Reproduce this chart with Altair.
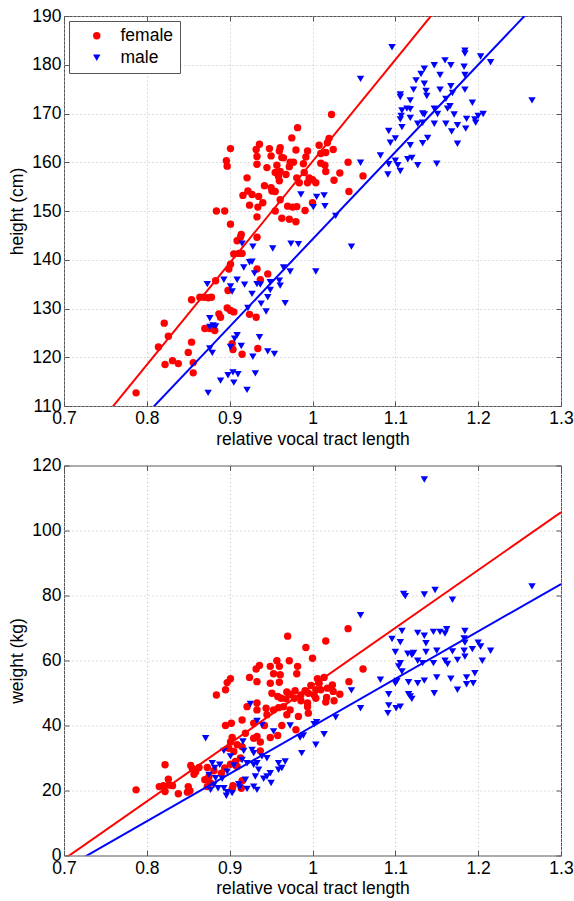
import altair as alt
import pandas as pd

FONT = "Liberation Sans"
X_TICKS = [0.7, 0.8, 0.9, 1.0, 1.1, 1.2, 1.3]
HEIGHT_TICKS = [110, 120, 130, 140, 150, 160, 170, 180, 190]
WEIGHT_TICKS = [0, 20, 40, 60, 80, 100, 120]
SEXES = ["female", "male"]
COLORS = ["#ff0000", "#0000ff"]
SHAPES = ["circle", "triangle-down"]

# ---- top panel: relative vocal tract length vs height (cm) ----
female_height = [
    (0.982,167.1),(0.975,165.0),(0.901,162.8),(0.936,163.7),(0.932,162.6),(0.948,162.8),(0.961,163.0),
    (0.960,162.3),(0.980,162.5),(0.994,162.3),(1.008,163.5),(0.896,160.3),(0.897,159.2),(0.933,161.2),
    (0.933,159.6),(0.950,161.3),(0.963,161.0),(0.965,160.9),(0.973,160.0),(0.977,160.0),(0.992,161.1),
    (0.989,159.7),(0.957,159.4),(0.945,158.9),(0.972,159.1),(0.961,158.1),(0.955,157.9),(0.968,157.5),
    (0.921,156.8),(0.959,157.1),(0.990,157.9),(0.981,156.8),(0.996,156.8),(1.004,155.8),(0.984,155.8),
    (0.994,155.8),(0.960,156.2),(0.942,155.2),(0.951,154.1),(0.950,154.8),(0.955,154.0),(0.922,154.1),
    (0.916,153.2),(0.927,153.4),(0.935,153.0),(0.961,152.3),
    (0.924,151.2),(0.934,150.8),(0.940,151.7),(0.933,148.8),(0.884,150.0),(0.894,150.0),(0.955,150.0),
    (0.963,148.5),(0.972,148.3),(0.970,151.0),(0.976,150.8),(0.981,150.9),(0.980,147.8),(0.991,150.1),
    (1.000,151.7),(0.901,147.3),(0.914,145.2),(0.913,144.6),(0.909,143.9),(0.933,144.6),(0.905,141.2),
    (0.911,141.3),(0.915,141.3),(0.901,139.1),(0.899,138.1),(0.933,138.1),(0.946,137.1),(0.937,135.9),
    (0.883,135.7),(0.898,133.7),(0.854,131.8),(0.864,132.3),(0.869,132.3),(0.874,132.2),(0.878,132.3),
    (0.897,130.1),(0.901,129.6),(0.905,129.3),(0.887,128.9),(0.889,128.2),(0.924,128.8),(0.932,128.2),
    (0.821,127.0),(0.826,124.3),(0.870,125.9),(0.876,125.9),(0.882,125.5),(0.814,122.1),(0.854,123.1),
    (0.903,122.8),(0.904,121.6),(0.934,121.8),(0.850,121.0),(0.915,120.6),(0.831,119.3),(0.838,118.7),
    (0.822,118.5),(0.856,118.9),(0.856,116.8),(0.787,112.7),
    (1.023,169.8),(1.020,164.9),(1.018,164.0),(1.025,162.6),(1.016,162.0),(1.010,161.8),(1.010,159.8),
    (1.015,159.4),(1.016,158.1),(1.043,160.0),(1.033,157.8),(1.061,157.2),(1.026,156.3),(1.000,156.4),
    (1.044,154.0),
]
male_height = [
    (0.986,153.4),(1.005,152.9),(1.001,150.8),
    (0.915,143.3),(0.928,142.7),(0.952,142.3),(0.974,143.3),(0.983,143.2),(0.927,139.6),(0.924,139.5),
    (0.917,138.4),(0.930,137.2),(0.909,135.9),(0.893,135.9),(0.873,135.0),(0.901,134.5),(0.903,133.5),
    (0.918,134.9),(0.933,135.0),(0.937,134.9),(0.949,135.4),(0.960,135.7),(0.961,134.7),(0.965,138.4),
    (0.973,137.6),(1.004,137.6),(0.927,133.0),(0.949,133.8),(0.946,132.3),(0.938,131.0),(0.922,130.1),
    (0.944,129.4),(0.967,131.1),(0.876,128.0),(0.880,126.5),(0.876,126.2),(0.883,126.3),(0.909,124.5),
    (0.906,123.8),(0.936,124.1),(0.901,122.1),(0.914,122.3),(0.876,121.8),(0.879,120.9),(0.946,121.2),
    (0.954,120.7),(0.928,120.1),(0.931,116.7),(0.898,116.3),(0.904,116.9),(0.910,116.5),(0.889,115.2),
    (0.905,114.8),(0.921,113.3),(0.874,112.7),
    (1.015,151.0),(1.028,149.0),(1.047,142.7),
    (1.096,183.6),(1.058,177.1),(1.184,182.9),(1.184,182.3),(1.203,181.7),(1.215,180.5),(1.160,180.9),
    (1.167,179.9),(1.147,179.9),(1.183,179.6),(1.135,179.2),(1.131,178.1),(1.154,177.9),(1.184,177.9),
    (1.125,176.8),(1.135,176.1),(1.106,173.9),(1.122,174.9),(1.137,174.6),(1.138,173.6),(1.154,174.9),
    (1.167,175.6),(1.169,174.2),(1.184,174.9),(1.106,173.4),(1.118,172.7),(1.161,173.0),(1.193,172.2),
    (1.265,172.7),(1.108,170.6),(1.114,171.0),(1.118,170.9),(1.107,169.5),(1.106,168.8),(1.118,169.1),
    (1.133,170.0),(1.135,169.8),(1.147,171.0),(1.151,169.9),(1.163,171.0),(1.166,171.5),(1.171,169.8),
    (1.186,168.9),(1.196,168.8),(1.206,169.9),(1.200,169.5),(1.197,168.1),(1.127,167.9),(1.133,168.1),
    (1.147,167.9),(1.161,167.9),(1.175,167.6),(1.108,167.2),(1.168,166.3),(1.185,166.9),(1.092,166.4),
    (1.139,165.0),(1.100,164.9),(1.094,164.0),(1.118,163.5),(1.133,163.9),(1.175,163.8),(1.082,161.4),
    (1.058,159.9),(1.092,159.6),(1.100,160.3),(1.103,159.4),(1.115,160.6),(1.120,160.9),(1.127,159.4),
    (1.150,159.7),(1.091,157.5),(1.106,158.2),(1.014,153.2),
]
# fitted lines (slope, intercept)
height_fit = {"female": (208.6, -48.43), "male": (179.0, -34.81)}

# ---- bottom panel: relative vocal tract length vs weight (kg) ----
female_weight = [
    (0.970,67.5),(0.992,64.0),(1.043,69.8),(1.016,66.0),
    (1.000,60.7),(0.972,59.9),(0.957,59.9),(0.949,58.2),(0.960,58.2),(0.936,58.5),(0.932,57.4),(0.982,58.2),
    (0.981,55.9),(0.961,55.6),(0.953,55.9),(0.924,54.8),(0.933,53.5),(0.901,54.4),(0.897,53.2),(0.895,51.0),
    (0.884,49.4),(0.949,53.0),(0.960,53.3),(0.998,52.3),(1.006,54.4),(0.979,50.7),(0.969,50.3),(0.973,49.6),
    (0.986,49.4),(0.991,50.7),(0.995,49.9),(0.951,49.9),(0.958,48.9),(0.962,48.4),(0.968,48.2),(0.978,48.4),
    (0.986,47.6),(0.994,46.9),(1.004,48.4),(0.933,46.9),(0.921,45.8),(0.944,45.3),(0.933,44.8),(0.953,44.8),
    (0.959,45.5),(0.965,45.8),(0.973,44.8),(0.994,45.8),(0.945,43.3),(0.969,43.3),(0.983,42.8),(0.995,43.8),
    (0.915,41.7),(0.902,40.7),(0.929,40.7),(0.942,40.0),(0.963,40.0),(0.895,40.0),(0.980,38.7),(0.919,37.6),
    (0.933,36.6),(0.929,36.1),(0.949,36.3),(0.958,36.9),(0.903,36.3),(0.901,34.9),(0.909,34.1),(0.937,34.9),
    (0.915,33.5),(0.899,33.0),(0.905,32.0),(0.937,32.2),(0.913,30.0),(0.907,28.9),(0.901,28.1),(0.909,27.4),
    (0.894,26.9),(0.890,25.3),(0.881,26.1),(0.873,27.1),(0.875,24.3),(0.870,23.3),(0.877,22.3),(0.873,21.2),
    (0.853,27.7),(0.855,26.7),(0.859,25.8),(0.863,27.1),(0.857,25.0),(0.822,27.9),(0.826,23.5),(0.827,21.7),
    (0.822,19.7),(0.815,21.2),(0.820,21.5),(0.831,21.5),(0.838,19.0),(0.850,21.2),(0.849,19.5),(0.852,19.9),
    (0.787,20.2),(0.904,21.5),(0.903,20.5),(0.914,20.7),(0.915,23.0),
    (1.061,57.4),(1.044,53.5),(1.033,49.6),(1.026,47.6),(1.016,47.2),(1.017,48.6),(1.024,52.5),(1.025,50.5),
    (1.014,54.8),(1.010,51.0),(1.004,51.0),(1.002,49.4),(1.008,53.0),(1.018,51.5),
]
male_weight = [
    (1.135,115.7),(1.058,73.9),(1.110,80.5),(1.112,79.8),(1.135,80.3),(1.148,81.7),(1.169,78.7),(1.265,82.8),
    (1.108,69.1),(1.096,66.6),(1.106,65.6),(1.127,68.5),(1.135,67.6),(1.146,68.8),(1.154,68.8),(1.162,69.6),
    (1.160,68.3),(1.184,69.1),(1.137,65.3),(1.183,66.8),(1.184,65.5),(1.200,65.5),(1.203,64.3),
    (1.100,62.6),(1.115,62.1),(1.120,61.7),(1.122,62.3),(1.137,62.6),(1.150,63.0),(1.169,62.8),(1.183,63.0),
    (1.193,63.5),(1.215,63.0),(1.106,59.2),(1.127,59.9),(1.133,59.2),(1.146,59.2),(1.160,59.9),(1.163,58.9),
    (1.175,60.2),(1.184,61.2),(1.205,59.9),(1.104,58.2),(1.108,56.6),(1.150,54.8),(1.167,54.4),(1.186,54.8),
    (1.196,56.1),(1.082,54.1),(1.102,53.7),(1.100,53.0),(1.116,53.3),(1.127,53.0),(1.135,53.8),(1.186,52.7),
    (1.194,53.0),(1.092,49.6),(1.116,49.6),(1.118,48.9),(1.120,48.2),(1.147,49.9),(1.175,51.0),(1.047,50.8),
    (1.092,46.2),(1.101,45.3),(1.106,45.8),(1.091,43.8),(1.058,45.3),(1.028,42.5),(1.002,40.4),(1.005,41.0),
    (1.014,37.3),(1.004,34.1),
    (0.925,46.6),(0.933,41.4),(0.939,40.2),(0.953,38.2),(0.973,40.0),(0.989,36.9),(0.985,36.3),(0.987,31.5),
    (0.871,36.1),(0.893,32.2),(0.901,30.5),(0.916,35.1),(0.917,32.2),(0.927,32.5),(0.929,31.5),(0.939,30.5),
    (0.945,29.9),(0.959,28.4),(0.967,28.9),(0.963,26.9),(0.959,26.4),(0.949,25.3),(0.945,24.3),(0.950,22.3),
    (0.879,28.4),(0.888,27.9),(0.882,26.9),(0.897,25.8),(0.905,27.7),(0.915,29.4),(0.921,28.4),(0.929,27.9),
    (0.933,28.4),(0.935,26.4),(0.931,24.3),(0.941,23.6),(0.875,24.8),(0.883,23.8),(0.891,23.6),(0.881,21.7),
    (0.877,20.2),(0.886,20.7),(0.893,20.7),(0.897,19.5),(0.896,18.4),(0.903,19.2),(0.911,21.9),(0.921,20.5),
    (0.929,21.2),(0.933,20.2),(0.912,20.9),(0.919,23.3),
]
weight_fit = {"female": (177.9, -125.67), "male": (146.0, -106.26)}


def points_frame(female, male):
    rows = [{"x": x, "y": y, "sex": "female"} for x, y in female]
    rows += [{"x": x, "y": y, "sex": "male"} for x, y in male]
    return pd.DataFrame(rows)


def fit_frame(fit):
    rows = []
    for sex, (slope, icpt) in fit.items():
        for x in (X_TICKS[0], X_TICKS[-1]):
            rows.append({"x": x, "y": slope * x + icpt, "sex": sex})
    return pd.DataFrame(rows)


LEGEND = dict(
    title=None, orient="top-left", offset=5, padding=6, symbolOffset=13, labelOffset=15,
    rowPadding=3, strokeColor="#555555", fillColor="white", labelFontSize=17.5, labelFont=FONT,
    symbolSize=55, cornerRadius=0, labelColor="black", symbolStrokeWidth=0,
)

INWARD = {"expr": "-5"}


def panel(pts_df, fit_df, ytitle, ydom, yvals):
    xscale = alt.Scale(domain=[0.7, 1.3], nice=False, zero=False)
    yscale = alt.Scale(domain=ydom, nice=False, zero=False)
    x = alt.X(
        "x:Q", scale=xscale,
        axis=alt.Axis(values=X_TICKS, format="~g", title="relative vocal tract length",
                      labelPadding=8.5, titlePadding=3, tickSize=INWARD, labelFlush=False),
    )
    y = alt.Y(
        "y:Q", scale=yscale,
        axis=alt.Axis(values=yvals, title=ytitle, labelPadding=8, titlePadding=5,
                      tickSize=INWARD, labelFlush=False),
    )
    x_top = alt.X(
        "x:Q", scale=xscale,
        axis=alt.Axis(orient="top", values=X_TICKS, labels=False, title=None, grid=False,
                      tickSize=INWARD),
    )
    y_right = alt.Y(
        "y:Q", scale=yscale,
        axis=alt.Axis(orient="right", values=yvals, labels=False, title=None, grid=False,
                      tickSize=INWARD),
    )
    pts = alt.Chart(pts_df).mark_point(filled=True, size=55, opacity=1).encode(
        x=x, y=y,
        color=alt.Color("sex:N", scale=alt.Scale(domain=SEXES, range=COLORS), legend=alt.Legend(**LEGEND)),
        shape=alt.Shape("sex:N", scale=alt.Scale(domain=SEXES, range=SHAPES), legend=alt.Legend(**LEGEND)),
    )
    lines = alt.Chart(fit_df).mark_line(clip=True, strokeWidth=2).encode(
        x=x_top, y=y_right,
        stroke=alt.Stroke("sex:N", scale=alt.Scale(domain=SEXES, range=COLORS), legend=None),
        detail="sex:N",
    )
    return (
        alt.layer(pts, lines)
        .resolve_axis(x="independent", y="independent")
        .properties(width=497, height=390)
    )


top = panel(points_frame(female_height, male_height), fit_frame(height_fit),
            "height (cm)", [110, 190], HEIGHT_TICKS)
bottom = panel(points_frame(female_weight, male_weight), fit_frame(weight_fit),
               "weight (kg)", [0, 120], WEIGHT_TICKS)

chart = (
    alt.vconcat(top, bottom, spacing=7.5)
    .properties(padding={"left": 8, "top": 6, "right": 0, "bottom": 0}, background="white")
    .configure_view(stroke="#555555", strokeWidth=1)
    .configure_axis(
        labelFont=FONT, titleFont=FONT, labelFontSize=17.5, titleFontSize=17.5,
        titleFontWeight="normal", labelColor="black", titleColor="black",
        domain=False, gridColor="#bdbdbd", gridDash=[1, 3], gridWidth=1, tickColor="#555555",
    )
)

chart.save("out.html", embed_options={"renderer": "svg", "actions": False})
